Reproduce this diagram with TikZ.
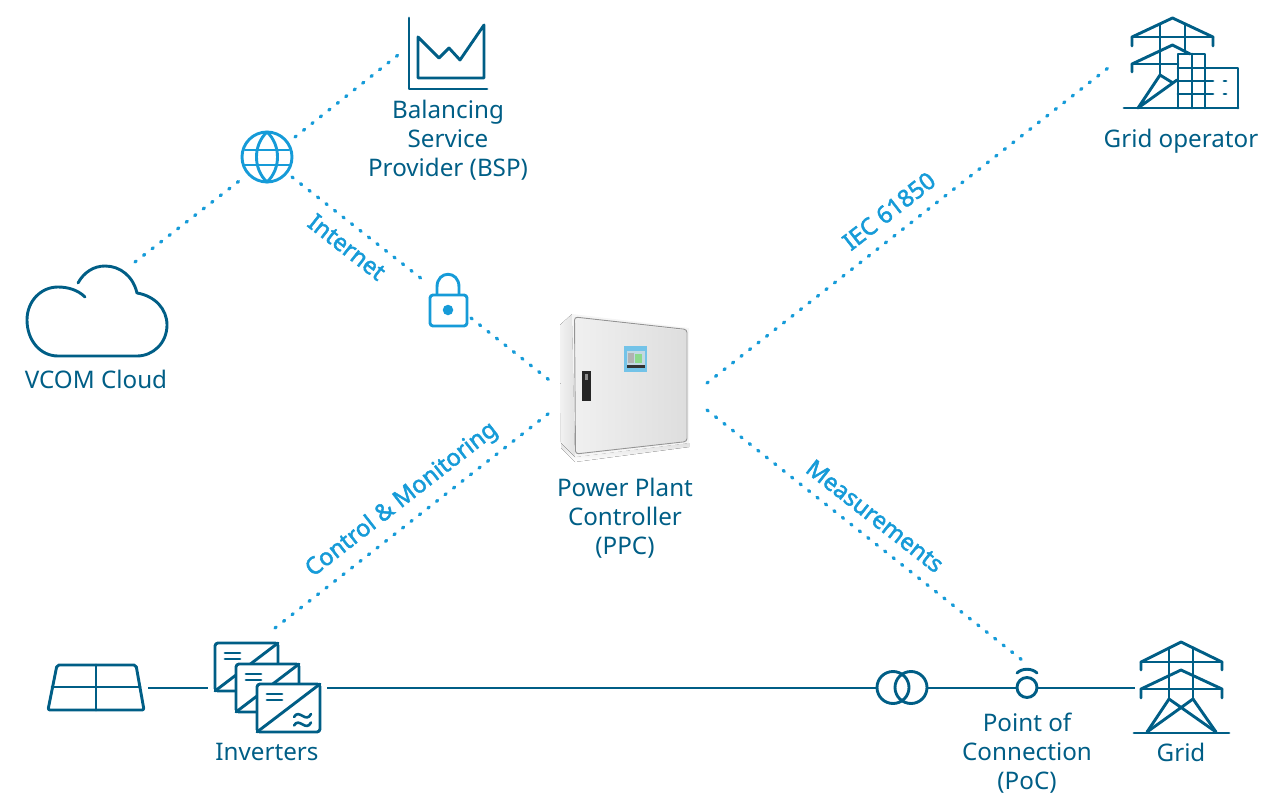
\documentclass[tikz,border=0pt]{standalone}
\usepackage{fontspec}
\setmainfont{Noto Sans}
\newfontfamily\labelfont[FakeBold=2]{Noto Sans}
\definecolor{darkteal}{HTML}{005E86}
\definecolor{skyblue}{HTML}{169BD8}
\tikzset{
  icon/.style={draw=darkteal,line width=2.9pt,line join=round,line cap=round},
  wire/.style={draw=darkteal,line width=2pt},
  blueicon/.style={draw=skyblue,line width=2.9pt,line join=round,line cap=round},
  dots/.style={draw=skyblue,line width=3.3pt,line cap=round,dash pattern=on 1.5pt off 9.3pt},
  caption/.style={text=darkteal,font=\fontsize{24.2}{29.1}\selectfont,align=center,inner sep=0pt},
  tag/.style={text=skyblue,font=\labelfont\fontsize{23.6}{28}\selectfont,inner sep=0pt},
}
\begin{document}
\begin{tikzpicture}[x=1pt,y=-1pt]
\useasboundingbox (0,0) rectangle (1280,800);
% connector ends
\coordinate (bspEnd) at (398,55);
\coordinate (globeNE) at (295,137);
\coordinate (globeSW) at (243,178);
\coordinate (cloudEnd) at (135,262);
\coordinate (globeSE) at (292,177);
\coordinate (lockNW) at (427,283);
\coordinate (lockSE) at (471,318);
\coordinate (ppcNW) at (553,383);
\coordinate (ppcSW) at (553,410);
\coordinate (invEnd) at (275,628);
\coordinate (ppcNE) at (707,383);
\coordinate (gridOpEnd) at (1108,68);
\coordinate (ppcSE) at (707,410);
\coordinate (pocEnd) at (1022,660);
\coordinate (panelE) at (148,687.5);
\coordinate (invW) at (208,687.5);
\coordinate (invE) at (327,687.5);
\coordinate (towerW) at (1135,687.5);
% dotted links
\draw[dots] (globeNE) -- (bspEnd);
\draw[dots] (cloudEnd) -- (globeSW);
\draw[dots] (globeSE) -- (lockNW);
\draw[dots] (lockSE) -- (ppcNW);
\draw[dots] (invEnd) -- (ppcSW);
\draw[dots] (ppcNE) -- (gridOpEnd);
\draw[dots] (ppcSE) -- (pocEnd);
% tags
\node[tag,rotate=-38] (tagNet) at (347,247) {Internet};
\node[tag,rotate=38] (tagCtl) at (402,500) {Control \& Monitoring};
\node[tag,rotate=38] (tagIec) at (889,211) {IEC 61850};
\node[tag,rotate=-38] (tagMeas) at (875,516) {Measurements};
% BSP chart
\draw[icon] (409,18) -- (409,89) -- (487,89);
\draw[icon] (418,37) -- (418,78) -- (484,78) -- (484,25) -- (460,60) -- (449,48) -- (439,58) -- cycle;
\node[caption] (bsp) at (448,140.5) {Balancing\\Service\\Provider (BSP)};
% globe
\node[circle,draw=skyblue,line width=2.9pt,minimum size=50pt,inner sep=0pt] (globe) at (267,157) {};
\draw[blueicon] (267,132) .. controls (253,145) and (253,169) .. (267,182) .. controls (281,169) and (281,145) .. (267,132);
\draw[blueicon] (245,150) -- (289,150) (245,165) -- (289,165);
% lock
\draw[blueicon] (437,294) -- (437,287) .. controls (437,270) and (459,270) .. (459,287) -- (459,294);
\draw[blueicon,fill=white,rounded corners=3pt] (430,295) rectangle (467,326);
\node[circle,fill=skyblue,minimum size=10.5pt,inner sep=0pt] (lockDot) at (448,310) {};
% cloud
\draw[icon] (78,283) .. controls (84,272) and (94,266) .. (105,266)
  .. controls (120,266) and (133,276) .. (137,293)
  .. controls (155,296) and (167,309) .. (167,325)
  .. controls (167,343) and (153,356) .. (137,356) -- (58,356)
  .. controls (40,356) and (27,340) .. (27,320)
  .. controls (27,301) and (41,287) .. (58,287)
  .. controls (68,287) and (78,290) .. (85,297);
\node[caption] (vcom) at (96,379) {VCOM Cloud};
% grid operator
\draw[icon] (1132,46) -- (1132,37) -- (1172.5,18) -- (1213,37) -- (1213,46);
\draw[icon] (1132,37) -- (1213,37);
\draw[icon] (1160,24) -- (1160,75) (1185,24) -- (1185,52);
\draw[icon] (1132,72) -- (1132,64) -- (1172.5,45) -- (1190,54);
\draw[icon] (1132,64) -- (1178,64);
\draw[icon] (1160,75) -- (1138,108) -- (1177,80) (1160,75) -- (1173,83);
\draw[icon] (1124,108) -- (1238,108);
\draw[icon] (1178,108) -- (1178,54) -- (1205,54) -- (1205,108);
\draw[icon] (1192,54) -- (1192,108);
\draw[icon] (1205,68) -- (1238,68) -- (1238,108);
\draw[icon] (1178,68) -- (1205,68);
\draw[icon] (1178,81) -- (1213,81) (1178,94) -- (1213,94);
\draw[icon] (1224,81) -- (1226,81) (1224,94) -- (1226,94);
\node[caption] (gridop) at (1181,141) {Grid operator};
% cabinet
\fill[bottom color=white,top color=black!12] (561,443) -- (575,457) -- (689,443) -- (689,447) -- (575,462) -- (561,448) -- cycle;
\fill[left color=black!5,right color=black!12] (560,325) -- (572,314) -- (575,457) -- (561,443) -- cycle;
\fill[black!4] (572,314) -- (689,328) -- (689,443) -- (575,457) -- cycle;
\shade[left color=black!6,right color=black!13] (575.5,318) -- (686.5,330.5) -- (686.5,441) -- (576.5,453.5) -- cycle;
\draw[black!42,line width=.9pt,rounded corners=3pt] (574.5,317) -- (687,329.5) -- (687,441.5) -- (575.5,454) -- cycle;
\fill[black!85] (582,371) rectangle (590.5,400.5);
\fill[black!45] (584.5,374) rectangle (587.5,380);
\fill[skyblue!60!white] (624,346) rectangle (647,372);
\fill[black!35!skyblue!25!white] (627,351) rectangle (644.5,368);
\fill[black!30] (628,353) rectangle (634,363);
\fill[green!50!gray!60!white] (635,354) rectangle (642,363);
\fill[black!80] (627,365) rectangle (644.5,368);
\node[caption] (ppc) at (625,518) {Power Plant\\Controller\\(PPC)};
% solar panel
\draw[icon,rounded corners=2pt] (57,665) -- (136,665) -- (144,710) -- (48,710) -- cycle;
\draw[icon] (52,687) -- (140,687) (96,665) -- (96,710);
\draw[wire] (panelE) -- (invW);
% inverters
\foreach \dx/\dy in {0/0,21/21,42/41}{
  \begin{scope}[shift={(\dx,\dy)}]
  \draw[icon,fill=white,rounded corners=3pt] (215,643) rectangle (278,691);
  \draw[icon] (215,691) -- (278,643);
  \draw[icon] (225,653) -- (240,653) (225,659) -- (240,659);
  \end{scope}
}
\draw[icon,line width=2.6pt] (294,717) .. controls (299,708) and (306,724) .. (311,714);
\draw[icon,line width=2.6pt] (294,725.5) .. controls (299,716.5) and (306,732.5) .. (311,722.5);
\node[caption] (inv) at (267,752) {Inverters};
% bus
\node[circle,draw=darkteal,line width=2.9pt,minimum size=32pt,inner sep=0pt] (trA) at (893,687.5) {};
\node[circle,draw=darkteal,line width=2.9pt,minimum size=32pt,inner sep=0pt] (trB) at (911,687.5) {};
\node[circle,draw=darkteal,line width=2.9pt,minimum size=20pt,inner sep=0pt] (poc) at (1027,687.5) {};
\draw[wire] (invE) -- (trA.west);
\draw[wire] (trB.east) -- (poc.west);
\draw[wire] (poc.east) -- (towerW);
\draw[icon] (1017,673) .. controls (1022,668) and (1032,668) .. (1037,673);
\node[caption] (pocText) at (1027,753) {Point of\\Connection\\(PoC)};
% grid tower
\draw[icon] (1141,670) -- (1141,662) -- (1181,642) -- (1222,662) -- (1222,670);
\draw[icon] (1141,662) -- (1222,662);
\draw[icon] (1141,698) -- (1141,689) -- (1181,670) -- (1222,689) -- (1222,698);
\draw[icon] (1141,689) -- (1222,689);
\draw[icon] (1169,648) -- (1169,699) (1193,648) -- (1193,699);
\draw[icon] (1169,699) -- (1147,732) (1193,699) -- (1216,732);
\draw[icon] (1169,699) -- (1216,732) (1193,699) -- (1147,732);
\draw[icon] (1134,733) -- (1229,733);
\node[caption] (grid) at (1181,752) {Grid};
\end{tikzpicture}
\end{document}
